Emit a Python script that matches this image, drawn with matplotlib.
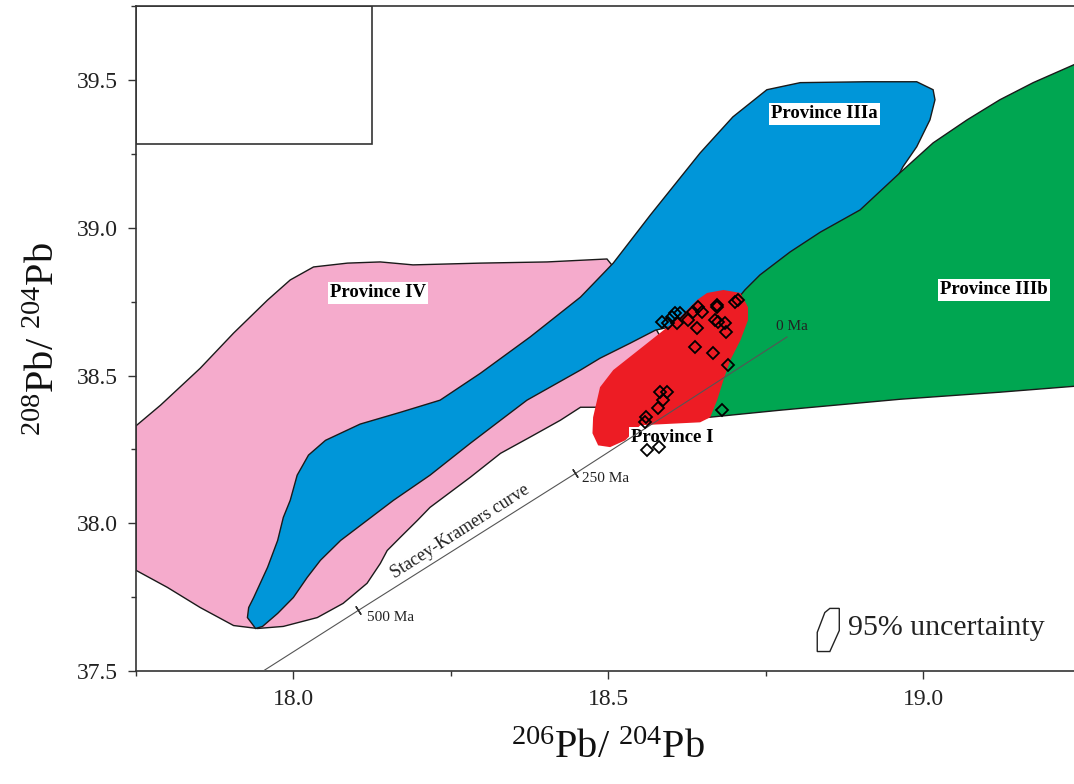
import numpy as np
import matplotlib
matplotlib.use("Agg")
import matplotlib.pyplot as plt
from matplotlib.patches import Polygon, Rectangle
from matplotlib.ticker import MultipleLocator, FormatStrFormatter

plt.rcParams['font.family'] = ['Liberation Serif', 'DejaVu Serif']
plt.rcParams['mathtext.fontset'] = 'custom'
plt.rcParams['mathtext.rm'] = 'Liberation Serif'
plt.rcParams['mathtext.it'] = 'Liberation Serif:italic'
plt.rcParams['mathtext.bf'] = 'Liberation Serif:bold'

# province outlines (206Pb/204Pb, 208Pb/204Pb)
prov4_x = [17.75, 17.789, 17.852, 17.905, 17.959, 17.995, 18.032, 18.086, 18.138, 18.190,
           18.297, 18.403, 18.498, 18.551, 18.590, 18.551, 18.495, 18.456, 18.424, 18.376,
           18.329, 18.281, 18.217, 18.197, 18.170, 18.149, 18.138, 18.117, 18.079, 18.038,
           17.984, 17.943, 17.905, 17.852, 17.800, 17.75]
prov4_y = [38.33, 38.400, 38.525, 38.644, 38.756, 38.824, 38.868, 38.881, 38.885, 38.875,
           38.881, 38.885, 38.895, 38.756, 38.603, 38.417, 38.393, 38.393, 38.349, 38.292,
           38.237, 38.156, 38.054, 38.010, 37.953, 37.908, 37.864, 37.797, 37.729, 37.681,
           37.651, 37.644, 37.654, 37.715, 37.783, 37.841]

prov3a_x = [17.940, 17.927, 17.929, 17.937, 17.959, 17.975, 17.984, 17.995, 18.006, 18.024,
            18.051, 18.106, 18.170, 18.233, 18.297, 18.376, 18.456, 18.508, 18.567, 18.646,
            18.698, 18.752, 18.805, 18.911, 18.990, 19.016, 19.019, 19.011, 18.990, 18.968,
            18.963, 18.916, 18.805, 18.717, 18.575, 18.535, 18.487, 18.456, 18.371, 18.329,
            18.281, 18.217, 18.159, 18.117, 18.075, 18.043, 18.022, 18.000, 17.975, 17.951]
prov3a_y = [37.644, 37.681, 37.715, 37.749, 37.851, 37.942, 38.020, 38.078, 38.163, 38.231,
            38.281, 38.336, 38.376, 38.417, 38.508, 38.631, 38.766, 38.881, 39.044, 39.254,
            39.376, 39.468, 39.492, 39.495, 39.495, 39.468, 39.434, 39.366, 39.275, 39.207,
            39.186, 38.990, 38.858, 38.722, 38.654, 38.610, 38.559, 38.519, 38.417, 38.349,
            38.271, 38.163, 38.078, 38.010, 37.942, 37.875, 37.817, 37.749, 37.695, 37.651]

prov3b_x = [19.257, 19.240, 19.175, 19.122, 19.070, 19.016, 18.963, 18.900, 18.837, 18.789,
            18.741, 18.717, 18.678, 18.646, 18.646, 18.773, 18.963, 19.122, 19.240, 19.257]
prov3b_y = [39.569, 39.553, 39.492, 39.434, 39.366, 39.288, 39.186, 39.061, 38.986, 38.919,
            38.841, 38.790, 38.688, 38.485, 38.356, 38.383, 38.420, 38.444, 38.464, 38.468]

prov1_x = [18.476, 18.487, 18.508, 18.562, 18.614, 18.641, 18.657, 18.683, 18.710, 18.722,
           18.722, 18.710, 18.694, 18.683, 18.673, 18.662, 18.646, 18.551, 18.527, 18.503,
           18.484, 18.475]
prov1_y = [38.359, 38.461, 38.519, 38.610, 38.698, 38.756, 38.780, 38.790, 38.780, 38.732,
           38.688, 38.620, 38.553, 38.485, 38.417, 38.359, 38.342, 38.332, 38.281, 38.258,
           38.264, 38.305]

# Stacey-Kramers growth curve and its age marks
sk_x = [17.952, 18.103, 18.448, 18.784]
sk_y = [37.50, 37.705, 38.169, 38.631]
sk_age_x = [18.103, 18.448]
sk_age_y = [37.705, 38.169]

# samples
samp_x = [18.586, 18.595, 18.602, 18.606, 18.614, 18.610, 18.627, 18.635, 18.643, 18.649,
          18.641, 18.673, 18.673, 18.670, 18.675, 18.686, 18.687, 18.702, 18.706, 18.638,
          18.667, 18.690, 18.583, 18.594, 18.587, 18.579, 18.560, 18.559, 18.562, 18.581,
          18.681]
samp_y = [38.681, 38.678, 38.698, 38.712, 38.712, 38.678, 38.688, 38.715, 38.732, 38.715,
          38.661, 38.732, 38.739, 38.688, 38.681, 38.678, 38.647, 38.749, 38.756, 38.597,
          38.576, 38.536, 38.444, 38.444, 38.417, 38.390, 38.359, 38.342, 38.247, 38.258,
          38.383]

# 95% uncertainty glyph
unc_x = [18.832, 18.844, 18.852, 18.867, 18.867, 18.852, 18.832]
unc_y = [37.631, 37.698, 37.712, 37.712, 37.637, 37.566, 37.566]

fig = plt.figure(figsize=(10.74, 7.84), dpi=100)
ax = fig.add_axes([0.1266, 0.1441, 0.8794, 0.8477])
ax.set_xlim(17.75, 19.25)
ax.set_ylim(37.5, 39.75)

edge = '#1a1a1a'
ax.add_patch(Polygon(np.column_stack([prov4_x, prov4_y]), closed=True,
                     fc='#F5ABCC', ec=edge, lw=1.0, zorder=1))
ax.add_patch(Polygon(np.column_stack([prov3a_x, prov3a_y]), closed=True,
                     fc='#0096D9', ec=edge, lw=1.0, zorder=2))
ax.add_patch(Polygon(np.column_stack([prov3b_x, prov3b_y]), closed=True,
                     fc='#00A651', ec=edge, lw=1.0, zorder=3))
ax.add_patch(Polygon(np.column_stack([prov1_x, prov1_y]), closed=True,
                     fc='#ED1C24', ec='none', zorder=4))

ax.add_patch(Rectangle((17.75, 39.285), 0.375, 0.465, fill=False,
                       ec='#333333', lw=1.2, zorder=6))

ax.text(18.602, 38.292, 'Province I', ha='center', va='center', fontsize=13.5,
        fontweight='bold', zorder=4.5,
        bbox=dict(fc='white', ec='none', pad=1.5))

ax.plot(sk_x, sk_y, color='#555555', lw=0.8, zorder=5)
p = ax.transData.transform([[sk_x[0], sk_y[0]], [sk_x[-1], sk_y[-1]]])
ang = np.degrees(np.arctan2(p[1, 1] - p[0, 1], p[1, 0] - p[0, 0]))
ax.plot(sk_age_x, sk_age_y, ls='none', marker=(2, 2, ang), ms=7,
        mec='#333333', mew=1.0, zorder=5)
ax.text(18.117, 37.681, '500 Ma', fontsize=11, va='center', ha='left', color='#222222')
ax.text(18.459, 38.153, '250 Ma', fontsize=11, va='center', ha='left', color='#222222')
ax.text(18.767, 38.668, '0 Ma', fontsize=11, va='center', ha='left', color='#222222')
ax.text(18.265, 37.973, 'Stacey-Kramers curve', fontsize=13, rotation=ang,
        rotation_mode='anchor', ha='center', va='center', color='#222222')

ax.plot(samp_x, samp_y, ls='none', marker='D', ms=6.5, mfc='none', mec='black',
        mew=1.3, zorder=7)

for name, x, y in [('Province IV', 18.135, 38.780),
                   ('Province IIIa', 18.844, 39.386),
                   ('Province IIIb', 19.113, 38.790)]:
    ax.text(x, y, name, ha='center', va='center', fontsize=13.5, fontweight='bold',
            zorder=8, bbox=dict(fc='white', ec='none', pad=1.5))

ax.add_patch(Polygon(np.column_stack([unc_x, unc_y]), closed=True, fill=False,
                     ec='#222222', lw=1.0, zorder=6))
ax.text(18.881, 37.647, '95% uncertainty', fontsize=21.5, va='center', ha='left',
        color='#222222')

ax.xaxis.set_major_locator(MultipleLocator(0.5))
ax.xaxis.set_minor_locator(MultipleLocator(0.25))
ax.yaxis.set_major_locator(MultipleLocator(0.5))
ax.yaxis.set_minor_locator(MultipleLocator(0.25))
ax.xaxis.set_major_formatter(FormatStrFormatter('%.1f'))
ax.yaxis.set_major_formatter(FormatStrFormatter('%.1f'))
ax.tick_params(which='major', direction='out', length=6, width=1.0, labelsize=17,
               pad=7, colors='#333333', labelcolor='#222222', top=False, right=False)
ax.tick_params(which='minor', direction='out', length=3.5, width=1.0,
               colors='#333333', top=False, right=False)
ax.spines['right'].set_visible(False)
for s in ['left', 'bottom', 'top']:
    ax.spines[s].set_linewidth(1.2)
    ax.spines[s].set_color('#333333')

ax.set_xlabel(r'$^{206}$Pb/ $^{204}$Pb', fontsize=29, labelpad=14, color='#111111')
ax.set_ylabel(r'$^{208}$Pb/ $^{204}$Pb', fontsize=29, labelpad=10, color='#111111')

fig.savefig('out.png', dpi=100)
